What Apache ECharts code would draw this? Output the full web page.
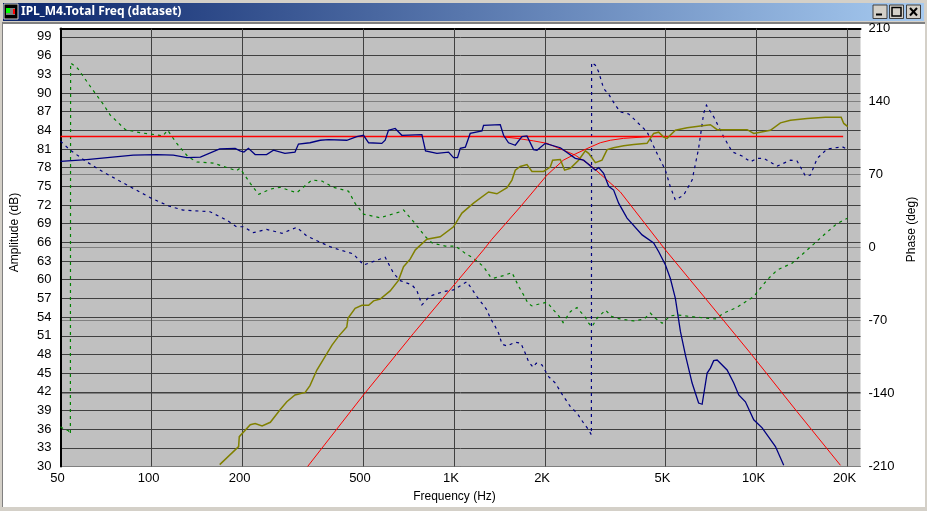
<!DOCTYPE html>
<html><head><meta charset="utf-8">
<style>html,body{margin:0;padding:0;background:#d4d0c8}#c{width:927px;height:511px}</style>
<script src="https://cdn.jsdelivr.net/npm/echarts@6/dist/echarts.min.js"></script>
</head><body><div id="c"></div>
<script>
const titleText = 'IPL_M4.Total Freq (dataset)';
const freqTicks = [100,200,500,1000,2000,5000,10000,20000];
const freqLabels = {50:'50',100:'100',200:'200',500:'500',1000:'1K',2000:'2K',5000:'5K',10000:'10K',20000:'20K'};

const targetFlat = [[50,83],[19340,83]];
const targetHP = [[328,30],[502,41.5],[735,51.4],[1252,64.8],[1334,66.5],[1656,71.7],[2029,76.8],[2298,79.2],[2517,80.2],[2822,81.3],[3045,82],[3286,82.4],[3629,82.7],[4458,83]];
const targetLP = [[1422,83],[1615,82.7],[1832,82.3],[2029,81.9],[2302,80.8],[2517,80],[2822,78.4],[3207,76],[3546,74.1],[4186,69.6],[4996,64.8],[6778,57],[9549,48.2],[13620,38.8],[18944,30.2]];

const hpAmp = [[168,30.3],[194,33.2],[195,34.8],[212,36.7],[220,36.9],[232,36.5],[247,37.1],[266,39.1],[280,40.4],[298,41.5],[322,41.9],[334,43],[352,45.5],[375,47.7],[395,49.5],[415,50.9],[442,52.4],[446,53.8],[471,55.4],[496,55.9],[522,55.9],[542,56.6],[570,56.9],[615,58.2],[655,59.9],[681,62.1],[716,63.3],[745,64.8],[813,66.5],[900,66.9],[996,68.5],[1062,70.7],[1160,72.3],[1301,74.1],[1386,73.8],[1497,74.8],[1554,76],[1594,77.6],[1656,78.2],[1742,78.5],[1810,77.4],[1977,77.4],[2080,78.1],[2118,79.2],[2246,79.3],[2320,77.6],[2424,77.9],[2581,79.2],[2717,80.7],[2786,80.3],[2933,78.8],[3085,79.2],[3207,80.9],[3370,81.2],[3638,81.5],[3926,81.7],[4346,81.9],[4570,83.5],[4750,83.7],[4931,82.9],[5062,82.7],[5392,84],[5898,84.4],[6522,84.7],[7040,84.9],[7411,84.1],[9312,84.1],[9792,83.5],[11117,84],[12000,85.2],[12945,85.6],[14707,85.9],[16896,86.1],[19046,86.1],[19430,85.1],[20032,84.6]];

const lpAmp = [[50,79],[61,79.3],[87,80],[104,80.1],[118,80],[131,79.6],[145,79.7],[168,81],[189,81.1],[196,80.7],[202,80.5],[209,81.1],[220,80.1],[240,80.1],[253,80.8],[276,80.3],[298,80.5],[306,81.8],[334,82],[361,82.4],[384,82.5],[442,82.4],[477,83],[502,83.2],[522,82],[577,81.9],[592,82.4],[607,84],[639,84.3],[672,83.2],[783,83.3],[805,80.7],[878,80.3],[959,80.5],[996,79.6],[1027,79.6],[1049,81.1],[1090,81.3],[1131,83.5],[1237,83.9],[1252,84.8],[1422,84.9],[1458,83.2],[1514,82],[1594,81.6],[1677,83],[1742,83.1],[1832,80.9],[1880,80.8],[2003,81.9],[2246,81.2],[2517,79.5],[2682,79.2],[2933,77.6],[3008,78],[3123,77.1],[3245,75],[3370,74.4],[3501,72.3],[3733,69.9],[4186,67.2],[4570,65.9],[4750,64.5],[4996,62.4],[5190,60.2],[5392,57],[5603,51.7],[5821,47.9],[6125,43.4],[6436,40.2],[6611,40],[6867,45],[7040,45.8],[7219,47],[7411,47.1],[7994,45.5],[8410,43.4],[8736,41.5],[9190,40.4],[9792,37.5],[10438,36.2],[11552,33.2],[12301,30.2]];

const hpPhase = [[50,-172],[52,-175],[53,-175.5],[53.9,-179],[54,177],[54.5,177],[57,171.7],[63.4,152.5],[69,138],[73,127],[82,113],[92,110],[104,108],[109,107],[113,112.5],[121,100],[132,87],[141,82],[160,81],[191,73.6],[196,76],[212,61.5],[226,51],[247,56],[266,57.7],[302,52.5],[339,64.7],[366,63.7],[399,57.7],[448,54],[471,42.3],[502,32],[570,28.5],[664,34.3],[681,36],[735,24.7],[805,10.3],[847,4.3],[935,1.4],[1010,1.4],[1090,-5.6],[1160,-10.3],[1252,-18.4],[1318,-28],[1351,-29.5],[1458,-27],[1554,-24],[1634,-37],[1710,-47],[1755,-53.5],[1810,-56],[1954,-53.5],[2029,-52.5],[2134,-60],[2229,-66.3],[2293,-72],[2424,-61.5],[2550,-57.5],[2616,-61.5],[2717,-67],[2786,-72.6],[2859,-75.9],[2972,-67.8],[3168,-60],[3328,-66.3],[3459,-67.8],[3546,-68.5],[3926,-70.4],[4237,-68.8],[4458,-63],[4630,-67.8],[4874,-72.6],[5190,-65.6],[5466,-64.7],[6362,-66.9],[7315,-68.5],[7789,-63],[8627,-57.3],[9792,-47],[10842,-31],[11706,-21.6],[13120,-15],[14707,-2.4],[16691,12],[18470,23],[19981,28]];

const lpPhase = [[50,102],[53.8,93.4],[61,82.2],[69,72.6],[83,59.9],[100,47.1],[114,39.8],[127,35.9],[156,34.3],[177,26.3],[191,19.9],[201,19.9],[217,14.2],[240,17.4],[270,13.6],[302,19.4],[326,11],[389,0.8],[420,-2.4],[465,-6.2],[502,-16.8],[592,-9.4],[631,-24.7],[664,-31.8],[726,-35.9],[754,-41.4],[783,-55],[834,-46.5],[923,-42.3],[996,-40.7],[1103,-32.8],[1190,-47],[1285,-59.9],[1318,-67.8],[1369,-75.9],[1404,-82.2],[1441,-92.7],[1497,-94.4],[1594,-90.8],[1664,-91.8],[1720,-101.4],[1763,-109.4],[1824,-114.8],[1870,-110.9],[1954,-112.6],[2000,-118],[2054,-123.8],[2162,-130],[2275,-140.6],[2424,-152.5],[2550,-158.8],[2682,-168.4],[2786,-174.8],[2845,-179.6],[2850,177.4],[2933,174.8],[3008,168.4],[3123,152.5],[3245,147],[3414,136.5],[3546,130],[3779,128],[3974,122],[4346,111],[4630,93.4],[4996,74.2],[5190,58.2],[5392,45.5],[5744,50.3],[6125,64.7],[6436,95],[6688,128.6],[6829,136.5],[7219,125.3],[7789,106.1],[8307,91.8],[8960,87.7],[9549,82.2],[10048,85.5],[10566,85.5],[11706,78],[12945,83.8],[13620,82.9],[14515,68.5],[15078,69.5],[15872,85.5],[17114,94.4],[19200,96.6],[20032,94]];

const FONT = '"Liberation Sans", Arial, sans-serif';
const chart = echarts.init(document.getElementById('c'), null, {renderer:'canvas'});

const lineS = (name, data, color, width, yi, dash) => ({
  name, type:'line', data, xAxisIndex:0, yAxisIndex:yi, showSymbol:false, symbol:'none', silent:true,
  clip:true, animation:false, lineStyle:{color, width, type: dash || 'solid', cap:'butt', join:'miter'}, z:5
});

chart.setOption({
  animation:false,
  backgroundColor:'#d4d0c8',
  grid:{left:60.5,right:66.5,top:28.5,bottom:44.5,show:true,backgroundColor:'#c0c0c0',borderWidth:0,containLabel:false,outerBoundsMode:'none'},
  xAxis:[{
    type:'log', logBase:10, min:50, max:22070, position:'bottom',
    name:'Frequency (Hz)', nameLocation:'middle', nameGap:24,
    nameTextStyle:{color:'#000',fontSize:12,fontFamily:FONT,padding:[0,12,0,0]},
    axisLine:{show:false}, axisTick:{show:false, customValues:freqTicks},
    minorTick:{show:false}, minorSplitLine:{show:false},
    axisLabel:{color:'#000',fontSize:13,fontFamily:FONT,margin:5,padding:[0,6,0,0],customValues:[50].concat(freqTicks),showMinLabel:true,showMaxLabel:true,hideOverlap:false,formatter:v=>freqLabels[Math.round(v)]||''},
    splitLine:{show:false}
  },{
    type:'value', min:0, max:1, position:'top',
    axisLine:{show:true,lineStyle:{color:'#000',width:2}},axisTick:{show:false},axisLabel:{show:false},splitLine:{show:false}
  }],
  yAxis:[{
    type:'value', min:30, max:100.35, interval:3, position:'left',
    name:'Amplitude (dB)', nameLocation:'middle', nameGap:40, nameRotate:90,
    nameTextStyle:{color:'#000',fontSize:12,fontFamily:FONT,padding:[0,0,0,30]},
    axisLine:{show:true,lineStyle:{color:'#000',width:2}},axisTick:{show:false},
    axisLabel:{color:'#000',fontSize:13,fontFamily:FONT,margin:9,showMaxLabel:false,showMinLabel:true,formatter:v=>v>99.5?'':String(v)},
    splitLine:{show:true,lineStyle:{color:'#404040',width:1}}
  },{
    type:'value', min:-210, max:210, interval:70, position:'right',
    name:'Phase (deg)', nameLocation:'middle', nameGap:45, nameRotate:90,
    nameTextStyle:{color:'#000',fontSize:12,fontFamily:FONT,padding:[0,0,0,36]},
    axisLine:{show:false},axisTick:{show:false},
    axisLabel:{color:'#000',fontSize:13,fontFamily:FONT,margin:8},
    splitLine:{show:true,lineStyle:{color:'#808080',width:1}}
  }],
  series:[
    {type:'line',data:[],xAxisIndex:0,yAxisIndex:0,silent:true,z:3,
     markLine:{silent:true,symbol:'none',animation:false,label:{show:false},lineStyle:{color:'#404040',width:1,type:'solid'},data:freqTicks.map(v=>({xAxis:v}))}},
    lineS('Phase HP', hpPhase, '#008000', 1.2, 1, [3,4]),
    lineS('Phase LP', lpPhase, '#000080', 1.2, 1, [3,4]),
    lineS('Target', targetFlat, '#ff0000', 1.6, 0),
    lineS('Target HP', targetHP, '#ff0000', 1, 0),
    lineS('Target LP', targetLP, '#ff0000', 1, 0),
    lineS('HP', hpAmp, '#808000', 1.5, 0),
    lineS('LP', lpAmp, '#000080', 1.3, 0)
  ],
  graphic:{elements:[
    {type:'rect',silent:true,z:-10,zlevel:0,shape:{x:0,y:0,width:927,height:511},style:{fill:'#d4d0c8'}},
    {type:'rect',silent:true,z:-9,shape:{x:2,y:22,width:923,height:485},style:{fill:'#808080'}},
    {type:'rect',silent:true,z:-8,shape:{x:3,y:24,width:922,height:483},style:{fill:'#ffffff'}},
    {type:'rect',silent:true,z:-7,shape:{x:3,y:3,width:921,height:18},style:{fill:new echarts.graphic.LinearGradient(0,0,1,0,[{offset:0,color:'#0a246a'},{offset:1,color:'#a6caf0'}])}},
    {type:'rect',silent:true,z:10,shape:{x:4,y:4,width:14,height:15},style:{fill:'#000',stroke:'#d4d0c8',lineWidth:1}},
    {type:'rect',silent:true,z:11,shape:{x:6,y:8,width:9,height:7},style:{fill:'#808080'}},
    {type:'rect',silent:true,z:12,shape:{x:6,y:8,width:4,height:5},style:{fill:'#00ff00'}},
    {type:'rect',silent:true,z:12,shape:{x:13,y:9,width:2,height:5},style:{fill:'#ff0000'}},
    {type:'text',silent:true,z:10,style:{x:21,y:12,text:titleText,fill:'#fff',font:'bold 12px "Noto Sans"',textVerticalAlign:'middle'}},
    ...[873,889.5,906.5].map((x,i)=>({type:'group',silent:true,z:10,children:[
      {type:'rect',shape:{x,y:5,width:14,height:13.5},style:{fill:'#d4d0c8',stroke:'#404040',lineWidth:1}},
      i===0?{type:'rect',shape:{x:x+3,y:13.5,width:6,height:2},style:{fill:'#000'}}:
      i===1?{type:'rect',shape:{x:x+2.5,y:7.5,width:9,height:8.5},style:{fill:'none',stroke:'#000',lineWidth:1.5}}:
      {type:'polyline',shape:{points:[[x+3.5,8],[x+10.5,15.5]]},style:{stroke:'#000',lineWidth:2}}
    ].concat(i===2?[{type:'polyline',shape:{points:[[x+10.5,8],[x+3.5,15.5]]},style:{stroke:'#000',lineWidth:2}}]:[])}))
  ]}
});
</script></body></html>
